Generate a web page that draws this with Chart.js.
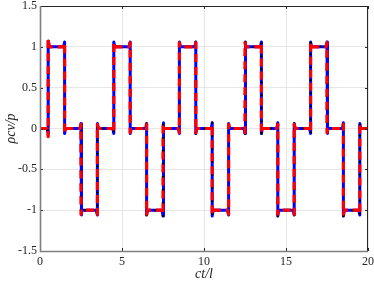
<!DOCTYPE html>
<html>
<head>
<meta charset="utf-8">
<script src="https://cdn.jsdelivr.net/npm/chart.js@4/dist/chart.umd.min.js"></script>
<style>
    html, body { margin: 0; padding: 0; background: #ffffff; }
    #wrap { width: 374px; height: 286px; }
</style>
</head>
<body>
<div id="wrap"><canvas id="pulseChart"></canvas></div>
<script>
// Switching times of the square wave and the level after each switch
const edgeX = [0.5, 1.5, 2.5, 3.5, 4.5, 5.5, 6.5, 7.5, 8.5, 9.5,
               10.5, 11.5, 12.5, 13.5, 14.5, 15.5, 16.5, 17.5, 18.5, 19.5];
const levelAfter = [1, 0, -1, 0, 1, 0, -1, 0, 1, 0,
                    -1, 0, 1, 0, -1, 0, 1, 0, -1, 0];
// Overshoot read at each switch
const redRing = [0.1, 0.05, 0.05, 0.05, 0.05, 0.05, 0.05, 0.05, 0.05, 0.05,
                 0.05, 0.05, 0.05, 0.05, 0.05, 0.05, 0.05, 0.05, 0.05, 0.05];
const blueRing = [0.07, 0.06, 0.06, 0.06, 0.06, 0.06, 0.06, 0.07, 0.06, 0.06,
                  0.07, 0.06, 0.06, 0.06, 0.07, 0.06, 0.06, 0.06, 0.07, 0.06];
const xTicks = [0, 5, 10, 15, 20];
const yTicks = [-1.5, -1, -0.5, 0, 0.5, 1, 1.5];

function buildWave(ring) {
    const pts = [{ x: 0, y: 0 }];
    let prev = 0;
    edgeX.forEach((x, i) => {
        const next = levelAfter[i];
        const dir = Math.sign(next - prev);
        pts.push({ x: x - 0.06, y: prev });
        pts.push({ x: x, y: prev - dir * ring[i] });
        pts.push({ x: x, y: next + dir * ring[i] });
        pts.push({ x: x + 0.06, y: next });
        prev = next;
    });
    pts.push({ x: 20, y: 0 });
    return pts;
}

const redPts = buildWave(redRing);
const bluePts = buildWave(blueRing);

// Box around the plot plus inward tick marks (matlab look)
const boxPlugin = {
    id: 'boxPlugin',
    afterDraw(chart) {
        const { ctx, chartArea: a, scales } = chart;
        ctx.save();
        // top and right edges, dark
        ctx.strokeStyle = '#262626';
        ctx.lineWidth = 1;
        ctx.beginPath();
        ctx.moveTo(a.left, a.top + 0.5);
        ctx.lineTo(a.right - 0.5, a.top + 0.5);
        ctx.lineTo(a.right - 0.5, a.bottom);
        ctx.stroke();
        ctx.beginPath();
        xTicks.forEach(v => {
            const px = Math.round(scales.x.getPixelForValue(v)) + 0.5;
            ctx.moveTo(px, a.top); ctx.lineTo(px, a.top + 3);
            ctx.moveTo(px, a.bottom); ctx.lineTo(px, a.bottom - 3);
        });
        yTicks.forEach(v => {
            const py = Math.round(scales.y.getPixelForValue(v)) + 0.5;
            ctx.moveTo(a.left, py); ctx.lineTo(a.left + 3, py);
            ctx.moveTo(a.right, py); ctx.lineTo(a.right - 3, py);
        });
        ctx.stroke();
        // left and bottom axes, grey
        ctx.strokeStyle = '#7f7f7f';
        ctx.lineWidth = 1.6;
        ctx.beginPath();
        ctx.moveTo(a.left + 0.5, a.top);
        ctx.lineTo(a.left + 0.5, a.bottom + 0.5);
        ctx.lineTo(a.right, a.bottom + 0.5);
        ctx.stroke();
        ctx.restore();
    }
};

const tickFont = { family: 'Liberation Serif', size: 12 };
const titleFont = { family: 'Liberation Serif', size: 14, style: 'italic' };
const lineBase = { showLine: true, pointRadius: 0, borderJoinStyle: 'round', borderCapStyle: 'butt' };

const ctx = document.getElementById('pulseChart').getContext('2d');
new Chart(ctx, {
    type: 'scatter',
    data: {
        datasets: [
            // first dataset is painted last, so red sits on top
            { ...lineBase, data: redPts, borderColor: '#ff0000', borderWidth: 3.2,
              borderDash: [8, 5] },
            { ...lineBase, data: bluePts, borderColor: '#000000', borderWidth: 2.5,
              borderDash: [1.5, 11.5], borderDashOffset: -8 },
            { ...lineBase, data: bluePts, borderColor: '#0000ff', borderWidth: 3 }
        ]
    },
    options: {
        responsive: true,
        maintainAspectRatio: false,
        animation: false,
        layout: { padding: { top: 6, right: 6, left: 0, bottom: 0 } },
        plugins: {
            legend: { display: false },
            tooltip: { enabled: false }
        },
        scales: {
            x: {
                type: 'linear',
                min: 0,
                max: 20,
                afterBuildTicks: s => { s.ticks = xTicks.map(v => ({ value: v })); },
                afterFit: s => { s.height = 35; s.paddingLeft = 0; s.paddingRight = 0; },
                grid: { color: '#e6e6e6', drawTicks: false },
                border: { display: false },
                ticks: { color: '#262626', font: tickFont, padding: 4, maxRotation: 0,
                         callback: v => String(v) },
                title: {
                    display: true,
                    text: 'ct/l',
                    color: '#262626',
                    font: titleFont,
                    padding: { top: 0, bottom: 3 }
                }
            },
            y: {
                type: 'linear',
                min: -1.5,
                max: 1.5,
                afterBuildTicks: s => { s.ticks = yTicks.map(v => ({ value: v })); },
                afterFit: s => { s.width = 40; s.paddingTop = 0; s.paddingBottom = 0; },
                grid: { color: '#e6e6e6', drawTicks: false },
                border: { display: false },
                ticks: { color: '#262626', font: tickFont, padding: 3,
                         callback: v => String(v) },
                title: {
                    display: true,
                    text: 'ρcv/p',
                    color: '#262626',
                    font: titleFont,
                    padding: { top: 3, bottom: 0 }
                }
            }
        }
    },
    plugins: [boxPlugin]
});
</script>
</body>
</html>
